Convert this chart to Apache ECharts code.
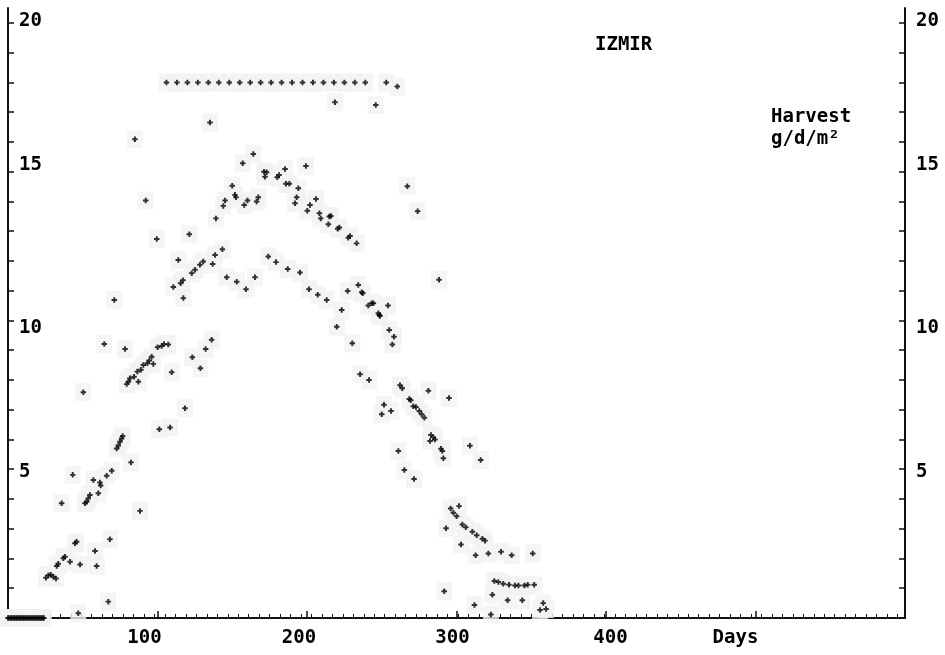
<!DOCTYPE html>
<html><head><meta charset="utf-8">
<script src="https://cdn.jsdelivr.net/npm/echarts@6/dist/echarts.min.js"></script>
<style>html,body{margin:0;padding:0;background:#fff}#c{width:945px;height:655px}</style>
</head><body><div id="c"></div>
<script>
// ---- data: [day, harvest g/d/m2] ----
const zeroRun = [[0,0],[1,0],[2,0],[3,0],[4,0],[5,0],[6,0],[7,0],[8,0],[9,0],[10,0],[11,0],[12,0],
  [13,0],[14,0],[15,0],[16,0],[17,0],[18,0],[19,0],[20,0],[21,0],[22,0],[23,0],[24,0]];
const topLine = [[106,18],[113,18],[120,18],[127,18],[134,18],[141,18],[148,18],[155,18],[162,18],
  [169,18],[176,18],[183,18],[190,18],[197,18],[204,18],[211,18],[218,18],[225,18],[232,18],
  [239,18],[253,18],[260.4,17.86],[218.7,17.33],[246,17.24]];
const earlyRise = [[25.4,1.35],[27,1.44],[28.6,1.45],[30.3,1.39],[32.1,1.33],[32.6,1.75],[33.6,1.82],
  [35.9,3.86],[37,2.01],[38.1,2.06],[41.5,1.89],[43.3,4.81],[44.8,2.51],[45.9,2.56],[47,0.16],
  [48.2,1.8],[50.4,7.59],[51.5,3.86],[52.6,3.91],[53.7,4.02],[54.8,4.13],[57.1,4.64],[58.2,2.25],
  [59.3,1.75],[60.4,4.19],[61.5,4.55],[62,4.45],[64.4,9.21],[66,4.78],[67.1,0.55],[68.2,2.65],
  [69.4,4.95],[71.1,10.69],[72.7,5.7],[73.8,5.8],[74.9,5.92],[76,6.03],[76.7,6.12],[78.3,9.04],
  [79.4,7.86],[80.5,7.94],[81.6,8.06],[82.3,5.23],[84.3,8.11],[84.9,16.09],[86.5,8.28],[87.2,7.94],
  [88.3,3.6],[88.9,8.34],[90.5,8.5],[92.1,14.03],[93.2,8.56],[94.5,8.65],[96.1,8.78],[97.2,8.54],
  [99.5,12.74],[100.1,9.1],[101.2,6.34],[102.8,9.14],[104.3,9.21],[107.2,9.19],[108.4,6.4],[109.5,8.26]];
const midSeason = [[110.6,11.12],[113.9,12.03],[115.5,11.25],[117,11.35],[117.3,10.75],[118.4,7.05],
  [121.3,12.9],[122.9,11.59],[123.3,8.76],[125.1,11.7],[128.4,11.87],[128.7,8.39],[130.6,11.98],
  [132.2,9.04],[135.1,16.65],[136.2,9.35],[136.9,11.9],[138.5,12.2],[139.1,13.43],[143.4,12.39],
  [144,13.85],[145.2,14.03],[146.3,11.45],[150,14.53],[151.8,14.22],[152.5,14.14],[153,11.3],
  [157,15.28],[158,13.88],[159.2,11.05],[160.2,14.03],[164.1,15.59],[165.2,11.45],[166.3,14.0],
  [167.4,14.14],[171.2,15.0],[171.9,14.83],[173,14.98],[174.1,12.15],[179.3,11.96],[180.1,14.81],
  [181.3,14.89],[185.3,15.09],[185.9,14.59],[187.1,11.73],[188.2,14.59],[192,13.94],[193.1,14.14],
  [194.2,14.44],[195.3,11.61],[199.3,15.19],[200.2,13.69],[201.3,11.05],[202,13.88],[206,14.08],
  [207.2,10.86],[208.3,13.6],[209.2,13.43],[213.2,10.69],[214.3,13.23],[214.9,13.49],[216,13.51],
  [219.9,9.79],[220.5,13.08],[221.6,13.12],[223.2,10.35],[227.2,10.99],[227.6,12.78],[228.8,12.84],
  [230.3,9.23],[233.2,12.59],[234.3,11.19],[235.5,8.19],[236.6,10.95],[237.3,10.91],[241,10.5],
  [241.5,8.0],[243.3,10.58],[244.4,10.58],[247.7,10.24],[248.4,10.18],[248.8,10.15]];
const decline = [[250,6.85],[251.5,7.17],[254.2,10.5],[255,9.68],[256.2,6.96],[257.1,9.19],[258.2,9.45],
  [261.1,5.61],[262.2,7.82],[263.7,7.72],[265.1,4.97],[267.1,14.51],[268.4,7.36],[269.4,7.32],
  [271.1,7.12],[272.9,7.09],[271.6,4.67],[274,13.67],[275.1,6.96],[276.7,6.85],[278.5,6.73],
  [281.2,7.64],[282.3,5.95],[282.9,6.15],[284.5,6.07],[285.6,6.0],[288.3,11.37],[289.6,5.69],
  [290.5,5.61],[291.2,5.37],[291.8,0.9],[293,3.02],[295,7.39],[296.1,3.68],[297.9,3.54],[300.1,3.42],
  [301.7,3.76],[303,2.47],[303.9,3.14],[306.2,3.05],[309,5.79],[310.6,2.9],[312,0.44],[312.8,2.11],
  [313.5,2.78],[316.2,5.31],[317.3,2.66],[319.1,2.6]];
const tail = [[321.3,2.17],[323,0.12],[324,0.78],[325.3,1.24],[328,1.21],[329.8,2.23],[331.3,1.15],
  [334.2,0.6],[335.1,1.12],[336.9,2.11],[339.1,1.09],[341.4,1.09],[344,0.6],[345.4,1.09],[347.6,1.12],
  [351,2.17],[352,1.12],[355.9,0.27],[358,0.5],[359.9,0.3]];

// ---- axis ticks / labels ----
const xMajorTicks = [100, 200, 300, 400, 500];
const xLabelText = {100: '100', 200: '200', 300: '300', 400: '400', 500: 'Days'};
const yTicks = [1,2,3,4,5,6,7,8,9,10,11,12,13,14,15,16,17,18,19,20];
const yLabelValues = [5, 10, 15, 20];
const weekTicks = [];
for (let d = 0; d <= 600; d += 7) weekTicks.push(d);

const FONT = 'DejaVu Sans Mono';
const baseTxt = {fontFamily: FONT, fontSize: 19, fontWeight: 'bold', color: '#000'};
const xRich = {
  x100: Object.assign({padding: [0, 26, 0, 0]}, baseTxt),
  x200: Object.assign({padding: [0, 16, 0, 0]}, baseTxt),
  x300: Object.assign({padding: [0, 8, 0, 0]}, baseTxt),
  x400: Object.assign({padding: [0, 0, 0, 9]}, baseTxt),
  x500: Object.assign({padding: [0, 40, 0, 0]}, baseTxt)
};
const yRich = {
  y5: Object.assign({padding: [6, 0, 0, 0]}, baseTxt),
  y10: Object.assign({padding: [16, 0, 0, 0]}, baseTxt),
  y15: Object.assign({padding: [0, 0, 14, 0]}, baseTxt),
  y20: Object.assign({padding: [0, 0, 4, 0]}, baseTxt)
};

const PLUS = 'path://M1.6,0L3.4,0L3.4,1.6L5,1.6L5,3.4L3.4,3.4L3.4,5L1.6,5L1.6,3.4L0,3.4L0,1.6L1.6,1.6Z';
const allPoints = [].concat(zeroRun, topLine, earlyRise, midSeason, decline, tail);

function yAxisCfg(pos) {
  return {
    type: 'value', position: pos, min: 0, max: 20.5,
    axisLine: {show: true, onZero: false, lineStyle: {color: '#111', width: 2}},
    axisTick: {show: true, inside: true, length: 6, customValues: yTicks, lineStyle: {color: '#111', width: 1.5}},
    axisLabel: {
      show: true, inside: pos === 'left', margin: 11, customValues: yLabelValues,
      formatter: v => '{y' + v + '|' + v + '}', rich: yRich,
      fontFamily: FONT, fontSize: 19, fontWeight: 'bold', color: '#000'
    },
    splitLine: {show: false}
  };
}

const chart = echarts.init(document.getElementById('c'), null, {renderer: 'canvas'});
chart.setOption({
  animation: false,
  backgroundColor: '#fff',
  title: [
    {text: 'IZMIR', left: 595, top: 36, padding: 0,
     textStyle: {fontFamily: FONT, fontSize: 19, fontWeight: 'bold', color: '#000'}},
    {text: 'Harvest\ng/d/m\u00B2', left: 771, top: 106, padding: 0,
     textStyle: {fontFamily: FONT, fontSize: 19, fontWeight: 'bold', color: '#000', lineHeight: 22}}
  ],
  grid: {left: 8, right: 40, top: 8, bottom: 37, containLabel: false},
  xAxis: [
    {type: 'value', min: 0, max: 600, position: 'bottom',
     axisLine: {show: true, onZero: false, lineStyle: {color: '#111', width: 2}},
     axisTick: {show: true, inside: true, length: 7, customValues: xMajorTicks, lineStyle: {color: '#111', width: 1.5}},
     axisLabel: {show: true, margin: 11, customValues: xMajorTicks,
       formatter: v => '{x' + v + '|' + xLabelText[v] + '}', rich: xRich,
       fontFamily: FONT, fontSize: 19, fontWeight: 'bold', color: '#000'},
     splitLine: {show: false}},
    {type: 'value', min: 0, max: 600, position: 'bottom', offset: 2,
     axisLine: {show: false},
     axisTick: {show: true, inside: true, length: 4, customValues: weekTicks, lineStyle: {color: '#111', width: 1}},
     axisLabel: {show: false}, splitLine: {show: false}}
  ],
  yAxis: [yAxisCfg('left'), yAxisCfg('right')],
  series: [
    {type: 'scatter', xAxisIndex: 0, yAxisIndex: 0, z: 1,
     symbol: 'rect', symbolSize: [16, 18],
     itemStyle: {color: '#f3f3f3'},
     data: allPoints, silent: true},
    {type: 'scatter', xAxisIndex: 0, yAxisIndex: 0, z: 3,
     symbol: PLUS, symbolSize: 5.5,
     itemStyle: {color: '#000'},
     data: allPoints, silent: true}
  ]
});
</script></body></html>
